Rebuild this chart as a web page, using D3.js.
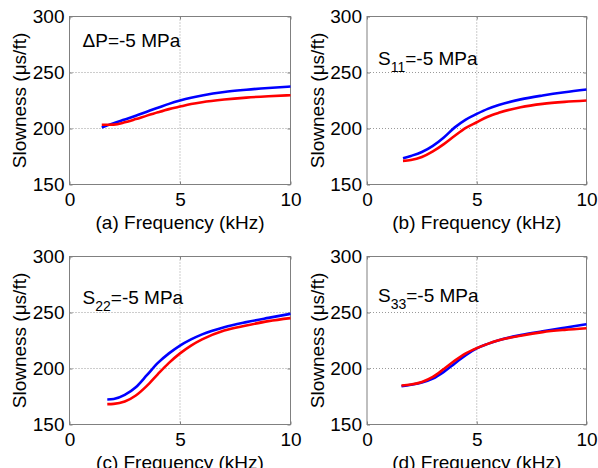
<!DOCTYPE html>
<html>
<head>
<meta charset="utf-8">
<script src="https://cdn.jsdelivr.net/npm/d3@7"></script>
<style>
  body { margin: 0; background: #fff; }
  text { font-family: Arial, "Liberation Sans", sans-serif; fill: #000; }
</style>
</head>
<body>
<svg id="chart" width="598" height="468"></svg>
<script>
// Axis ticks shared by all four panels
const xTicks = [0, 5, 10];
const yTicks = [150, 200, 250, 300];
const xDomain = [0, 10];
const yDomain = [150, 300];

// Panel captions and stress annotations
const panelLetters = ["a", "b", "c", "d"];
const annMain = ["\u0394P", "S", "S", "S"];
const annSub = ["", "11", "22", "33"];
const annRest = "=-5 MPa";
// annotation anchor in data coordinates (kHz, slowness)
const annFreq = [0.59, 0.5, 0.59, 0.5];
const annSlow = [272.8, 256.7, 257.6, 259.4];

// (a) ΔP = -5 MPa
const freqA = [1.46, 2, 2.5, 3, 3.5, 4, 4.5, 5, 5.5, 6, 7, 8, 9, 10];
const blueA = [200.9, 204.8, 208.0, 211.3, 215.0, 218.5, 222.0, 225.0, 227.5, 229.5, 232.6, 234.6, 236.2, 237.5];
const redA  = [203.3, 203.5, 205.5, 208.4, 211.5, 214.5, 217.3, 219.6, 221.8, 223.5, 225.9, 227.6, 228.8, 229.7];

// (b) S11 = -5 MPa
const freqB = [1.64, 2, 2.5, 3, 3.5, 4, 4.5, 5, 5.5, 6, 7, 8, 9, 10];
const blueB = [173.5, 175.5, 179.0, 184.5, 192.0, 201.0, 208.0, 213.0, 217.5, 221.0, 226.0, 229.5, 232.4, 234.8];
const redB  = [171.1, 171.8, 174.5, 179.5, 186.0, 193.5, 200.5, 205.6, 210.5, 214.0, 219.0, 222.0, 223.8, 225.0];

// (c) S22 = -5 MPa
const freqC = [1.71, 2, 2.5, 3, 3.5, 4, 4.5, 5, 5.5, 6, 7, 8, 9, 10];
const blueC = [172.3, 172.8, 176.5, 183.3, 194.0, 205.0, 213.5, 220.5, 226.0, 230.5, 236.9, 241.4, 245.2, 248.8];
const redC  = [168.2, 168.4, 170.5, 175.9, 184.5, 195.0, 205.0, 213.5, 220.5, 226.0, 233.9, 238.4, 242.3, 245.0];

// (d) S33 = -5 MPa
const freqD = [1.57, 2, 2.5, 3, 3.5, 4, 4.5, 5, 5.5, 6, 7, 8, 9, 10];
const blueD = [184.2, 185.5, 187.5, 191.0, 197.0, 204.5, 212.0, 218.0, 222.0, 225.3, 229.8, 233.2, 236.4, 239.5];
const redD  = [184.8, 185.7, 188.0, 192.5, 199.5, 207.0, 213.5, 218.2, 222.0, 225.2, 229.3, 232.5, 234.5, 236.0];

const freqs = [freqA, freqB, freqC, freqD];
const blues = [blueA, blueB, blueC, blueD];
const reds  = [redA, redB, redC, redD];

const svg = d3.select("#chart");
svg.append("rect").attr("width", 598).attr("height", 468).attr("fill", "#fff");

// subplot frames (left/right columns, top/bottom rows)
const colX = [[69.5, 290.5], [367, 586.5]];
const rowY = [[16.5, 184.5], [256.5, 424.5]];
const axisColor = "#808080";
const fontSize = 19;

panelLetters.forEach((letter, i) => {
  const [x0, x1] = colX[i % 2];
  const [y0, y1] = rowY[Math.floor(i / 2)];
  const w = x1 - x0, h = y1 - y0;
  const g = svg.append("g").attr("transform", `translate(${x0},${y0})`);

  const x = d3.scaleLinear().domain(xDomain).range([0, w]);
  const y = d3.scaleLinear().domain(yDomain).range([h, 0]);

  // dotted grid
  g.append("g").selectAll("line")
    .data(xTicks.filter(t => t > xDomain[0] && t < xDomain[1]))
    .join("line")
    .attr("x1", d => x(d)).attr("x2", d => x(d))
    .attr("y1", 0).attr("y2", h)
    .attr("stroke", "#9a9a9a").attr("stroke-width", 1)
    .attr("stroke-dasharray", "1,2");
  g.append("g").selectAll("line")
    .data(yTicks.filter(t => t > yDomain[0] && t < yDomain[1]))
    .join("line")
    .attr("x1", 0).attr("x2", w)
    .attr("y1", d => y(d)).attr("y2", d => y(d))
    .attr("stroke", "#9a9a9a").attr("stroke-width", 1)
    .attr("stroke-dasharray", "1,2");

  // axes with inward ticks
  const styleAxis = sel => {
    sel.select(".domain").remove();
    sel.selectAll(".tick line").attr("stroke", axisColor);
    sel.selectAll(".tick text").attr("font-size", fontSize).attr("fill", "#000");
  };
  g.append("g").attr("transform", `translate(0,${h})`)
    .call(d3.axisBottom(x).tickValues(xTicks).tickSize(-3).tickSizeOuter(0).tickPadding(8))
    .call(styleAxis);
  g.append("g")
    .call(d3.axisLeft(y).tickValues(yTicks).tickSize(-3).tickSizeOuter(0).tickPadding(5))
    .call(styleAxis);
  g.append("g")
    .call(d3.axisTop(x).tickValues(xTicks).tickSize(-3).tickSizeOuter(0).tickFormat(""))
    .call(styleAxis);
  g.append("g").attr("transform", `translate(${w},0)`)
    .call(d3.axisRight(y).tickValues(yTicks).tickSize(-3).tickSizeOuter(0).tickFormat(""))
    .call(styleAxis);

  // box
  g.append("rect").attr("width", w).attr("height", h)
    .attr("fill", "none").attr("stroke", axisColor).attr("stroke-width", 1);

  // curves
  const line = d3.line()
    .x(d => x(d[0])).y(d => y(d[1]))
    .curve(d3.curveMonotoneX);
  const f = freqs[i];
  g.append("path").datum(f.map((v, k) => [v, blues[i][k]]))
    .attr("d", line).attr("fill", "none")
    .attr("stroke", "#0000ff").attr("stroke-width", 2.6);
  g.append("path").datum(f.map((v, k) => [v, reds[i][k]]))
    .attr("d", line).attr("fill", "none")
    .attr("stroke", "#ff0000").attr("stroke-width", 2.6);

  // annotation
  const ann = g.append("text")
    .attr("x", x(annFreq[i])).attr("y", y(annSlow[i]))
    .attr("font-size", fontSize);
  ann.append("tspan").text(annMain[i]);
  if (annSub[i]) {
    ann.append("tspan").attr("font-size", 14).attr("dy", 7).text(annSub[i]);
    ann.append("tspan").attr("dy", -7).text(annRest);
  } else {
    ann.append("tspan").text(annRest);
  }

  // axis labels
  g.append("text")
    .attr("x", w / 2).attr("y", h + 44.5)
    .attr("text-anchor", "middle").attr("font-size", fontSize)
    .text(`(${letter}) Frequency (kHz)`);
  g.append("text")
    .attr("transform", `translate(-43.5,${h / 2}) rotate(-90)`)
    .attr("text-anchor", "middle").attr("font-size", fontSize)
    .text("Slowness (\u03bcs/ft)");
});
</script>
</body>
</html>
